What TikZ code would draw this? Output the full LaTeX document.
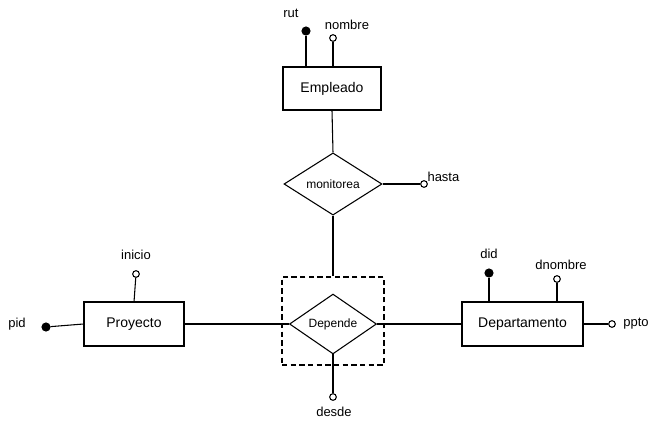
\documentclass[tikz,border=0pt]{standalone}
\usepackage{fontspec}
\setmainfont{Liberation Sans}
\usetikzlibrary{shapes.geometric}
\begin{document}
\begin{tikzpicture}[x=0.75pt,y=-0.75pt,
  line width=0.8pt,
  entity/.style={draw,rectangle,inner sep=0pt,font=\fontsize{10.5}{12}\selectfont},
  relation/.style={draw,diamond,inner sep=0pt,font=\fontsize{9}{11}\selectfont},
  keyattr/.style={circle,fill=black,draw,inner sep=0pt,minimum size=6pt},
  attr/.style={circle,fill=white,draw,inner sep=0pt,minimum size=5pt},
  attrlabel/.style={inner sep=0pt,font=\fontsize{9.75}{11}\selectfont},
  aggbox/.style={draw,dashed,dash pattern=on 4pt off 2.5pt,rectangle,inner sep=0pt}]
\useasboundingbox (0,0) rectangle (654,422);

% entities
\node[entity,minimum width=73.5pt,minimum height=32.25pt] (emp) at (332,88.5) {Empleado};
\node[entity,minimum width=75pt,minimum height=33pt] (proy) at (134,324) {Proyecto};
\node[entity,minimum width=90.75pt,minimum height=33pt] (dept) at (522.5,324) {Departamento};

% relationships
\node[relation,minimum width=73.5pt,minimum height=43.5pt] (mon) at (333,184) {monitorea};
\node[aggbox,minimum width=76.5pt,minimum height=66pt] (agg) at (333,321) {};
\node[relation,minimum width=65.25pt,minimum height=40.5pt] (dep) at (333,324) {Depende};

% attributes of Empleado
\node[keyattr] (rut) at (306,31) {};
\node[attrlabel] (rutl) at (291,13) {rut};
\node[attr] (nombre) at (333,38) {};
\node[attrlabel] (nombrel) at (347,25) {nombre};
\draw (rut) -- (rut |- emp.north);
\draw (nombre) -- (nombre |- emp.north);

% attribute of monitorea
\node[attr] (hasta) at (424,184) {};
\node[attrlabel,anchor=west] (hastal) at (427,177) {hasta};
\draw (mon.east) -- (hasta);

% attributes of Proyecto
\node[keyattr] (pid) at (46,327) {};
\node[attrlabel] (pidl) at (17,324) {pid};
\node[attr] (inicio) at (136,274) {};
\node[attrlabel] (iniciol) at (136,255) {inicio};
\draw (pid) -- (proy.west);
\draw (inicio) -- (134,302);

% attributes of Departamento
\node[keyattr] (did) at (489,273) {};
\node[attrlabel] (didl) at (489,254) {did};
\node[attr] (dnombre) at (557,279) {};
\node[attrlabel] (dnombrel) at (561,265) {dnombre};
\node[attr] (ppto) at (612,324) {};
\node[attrlabel] (pptol) at (636,324) {ppto};
\draw (did) -- (did |- dept.north);
\draw (dnombre) -- (dnombre |- dept.north);
\draw (dept.east) -- (ppto);

% attribute of Depende
\node[attr] (desde) at (333,397) {};
\node[attrlabel] (desdel) at (334,412) {desde};
\draw (dep.south) -- (desde);

% relationship links
\draw (emp.south) -- (mon.north);
\draw (mon.south) -- (agg.north);
\draw (proy.east) -- (dep.west);
\draw (dep.east) -- (dept.west);
\end{tikzpicture}
\end{document}
